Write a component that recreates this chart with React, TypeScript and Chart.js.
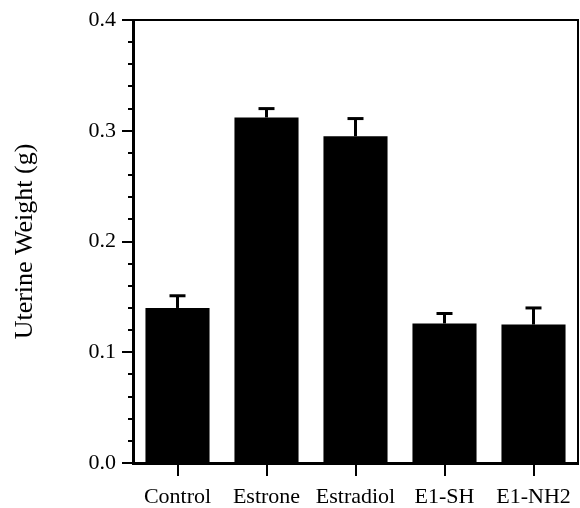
import React, { useEffect, useRef } from "react";
import { Chart, registerables } from "chart.js";

Chart.register(...registerables);

const categories = ["Control", "Estrone", "Estradiol", "E1-SH", "E1-NH2"];
const means = [0.14, 0.312, 0.295, 0.126, 0.125];
const upperErrors = [0.011, 0.008, 0.016, 0.009, 0.015];
const yTickValues = [0.0, 0.1, 0.2, 0.3, 0.4];
const yAxisTitle = "Uterine Weight (g)";

const SERIF = "'Liberation Serif', 'Times New Roman', serif";

const frameAndExtras = {
  id: "frameAndExtras",
  afterDatasetsDraw(chart: any) {
    const { ctx } = chart;
    const x = chart.scales.x;
    const y = chart.scales.y;
    ctx.save();
    ctx.strokeStyle = "#000";
    ctx.lineWidth = 3;
    ctx.lineCap = "butt";
    means.forEach((m, i) => {
      const cx = x.getPixelForValue(i);
      const yTop = y.getPixelForValue(m + upperErrors[i]);
      const yBar = y.getPixelForValue(m);
      ctx.beginPath();
      ctx.moveTo(cx, yBar);
      ctx.lineTo(cx, yTop);
      ctx.stroke();
      ctx.beginPath();
      ctx.moveTo(cx - 8, yTop);
      ctx.lineTo(cx + 8, yTop);
      ctx.stroke();
    });
    ctx.restore();
  },
  afterDraw(chart: any) {
    const { ctx, chartArea } = chart;
    const y = chart.scales.y;
    ctx.save();
    ctx.strokeStyle = "#000";
    ctx.lineWidth = 2;
    ctx.beginPath();
    ctx.moveTo(chartArea.left, chartArea.top);
    ctx.lineTo(chartArea.right, chartArea.top);
    ctx.lineTo(chartArea.right, chartArea.bottom);
    ctx.stroke();
    for (let k = 0; k <= 20; k++) {
      if (k % 5 === 0) continue;
      const py = Math.round(y.getPixelForValue(k * 0.02));
      ctx.beginPath();
      ctx.moveTo(chartArea.left - 5, py);
      ctx.lineTo(chartArea.left, py);
      ctx.stroke();
    }
    ctx.restore();
  },
};

export default function App() {
  const ref = useRef<HTMLCanvasElement>(null);
  useEffect(() => {
    if (!ref.current) return;
    const chart = new Chart(ref.current, {
      type: "bar",
      data: {
        labels: categories,
        datasets: [
          {
            data: means,
            backgroundColor: "#000",
            borderWidth: 0,
            barPercentage: 0.72,
            categoryPercentage: 1,
          },
        ],
      },
      options: {
        responsive: false,
        animation: false,
        events: [],
        layout: { padding: { top: 20, right: 2, left: 0, bottom: 0 } },
        plugins: { legend: { display: false }, tooltip: { enabled: false } },
        scales: {
          x: {
            afterFit: (s: any) => {
              s.height = 45;
            },
            grid: {
              offset: false,
              display: true,
              drawOnChartArea: false,
              drawTicks: true,
              tickLength: 13,
              lineWidth: 2,
              color: "#000",
            },
            border: { display: true, width: 3, color: "#000" },
            ticks: {
              color: "#000",
              font: { family: SERIF, size: 22 },
              padding: 8,
              maxRotation: 0,
            },
          },
          y: {
            min: 0,
            max: 0.4,
            afterFit: (s: any) => {
              s.width = 133;
            },
            afterBuildTicks: (s: any) => {
              s.ticks = yTickValues.map((v) => ({ value: v }));
            },
            grid: {
              display: true,
              drawOnChartArea: false,
              drawTicks: true,
              tickLength: 11,
              lineWidth: 2,
              color: "#000",
            },
            border: { display: true, width: 3, color: "#000" },
            ticks: {
              color: "#000",
              font: { family: SERIF, size: 22 },
              padding: 6,
              callback: (v: any) => Number(v).toFixed(1),
            },
            title: {
              display: true,
              text: yAxisTitle,
              color: "#000",
              font: { family: SERIF, size: 26 },
              padding: { top: 10, bottom: 0 },
            },
          },
        },
      },
      plugins: [frameAndExtras],
    });
    return () => chart.destroy();
  }, []);
  return (
    <div style={{ position: "fixed", left: 0, top: 0, width: 580, height: 508, background: "#fff" }}>
      <canvas ref={ref} width={580} height={508} style={{ display: "block" }} />
    </div>
  );
}
